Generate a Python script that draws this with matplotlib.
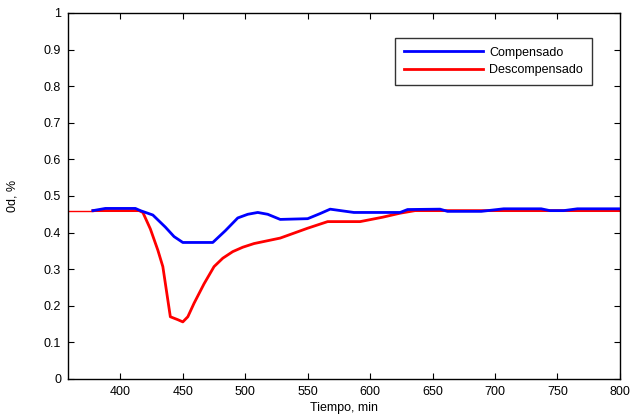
import numpy as np
import matplotlib.pyplot as plt

plt.rcParams['font.family'] = ['Liberation Sans', 'DejaVu Sans']

# tiempo (min) y Od (%) para cada caso
t_comp = [378, 388, 412, 416, 426, 436, 443, 450, 474, 484, 494, 502, 510, 518,
          528, 550, 560, 568, 587, 624, 630, 656, 662, 689, 707, 737, 744, 755,
          766, 800]
od_comp = [0.460, 0.466, 0.466, 0.460, 0.448, 0.415, 0.389, 0.373, 0.373, 0.405,
           0.440, 0.450, 0.455, 0.450, 0.436, 0.438, 0.452, 0.464, 0.455, 0.455,
           0.463, 0.464, 0.458, 0.458, 0.465, 0.465, 0.460, 0.460, 0.465, 0.465]

t_desc = [358, 378, 415, 418, 424, 430, 434, 440, 446, 450, 454, 459, 467, 475,
          482, 490, 498, 507, 528, 550, 566, 592, 610, 624, 636, 800]
od_desc = [0.460, 0.460, 0.460, 0.455, 0.410, 0.352, 0.307, 0.170, 0.162, 0.156,
           0.170, 0.207, 0.260, 0.307, 0.330, 0.348, 0.360, 0.370, 0.385, 0.412,
           0.430, 0.430, 0.442, 0.453, 0.460, 0.460]

x_ticks = [400, 450, 500, 550, 600, 650, 700, 750, 800]
y_ticks = [0, 0.1, 0.2, 0.3, 0.4, 0.5, 0.6, 0.7, 0.8, 0.9, 1]

fig = plt.figure(figsize=(6.41, 4.19), dpi=100)
ax = fig.add_axes([0.106, 0.0955, 0.861, 0.8735])

# tramo inicial fino, luego el resto grueso
ax.plot(t_desc[:2], od_desc[:2], color='#ff0000', lw=1.0, zorder=2)
ax.plot(t_desc[1:], od_desc[1:], color='#ff0000', lw=2.0, label='Descompensado',
        zorder=2)
ax.plot(t_comp, od_comp, color='#0000ff', lw=2.0, label='Compensado', zorder=3)

ax.set_xlim(358, 800)
ax.set_ylim(0, 1)
ax.set_xticks(x_ticks)
ax.set_yticks(y_ticks)
ax.set_yticklabels(['0', '0.1', '0.2', '0.3', '0.4', '0.5', '0.6', '0.7', '0.8',
                    '0.9', '1'])
ax.tick_params(direction='in', top=True, right=True, labelsize=9, length=4,
               width=0.8, pad=5)
for s in ax.spines.values():
    s.set_linewidth(1.0)

ax.set_xlabel('Tiempo, min', fontsize=9, labelpad=3)
ax.set_ylabel('0d, %', fontsize=9, labelpad=18)

h, l = ax.get_legend_handles_labels()
leg = ax.legend(h[::-1], l[::-1], loc='upper right', bbox_to_anchor=(0.949, 0.932),
                fontsize=9, frameon=True, fancybox=False, handlelength=6.3,
                borderpad=0.7, labelspacing=0.45, handletextpad=0.5,
                borderaxespad=0)
leg.get_frame().set_edgecolor('black')
leg.get_frame().set_linewidth(1.0)

fig.savefig('out.png', dpi=100)
